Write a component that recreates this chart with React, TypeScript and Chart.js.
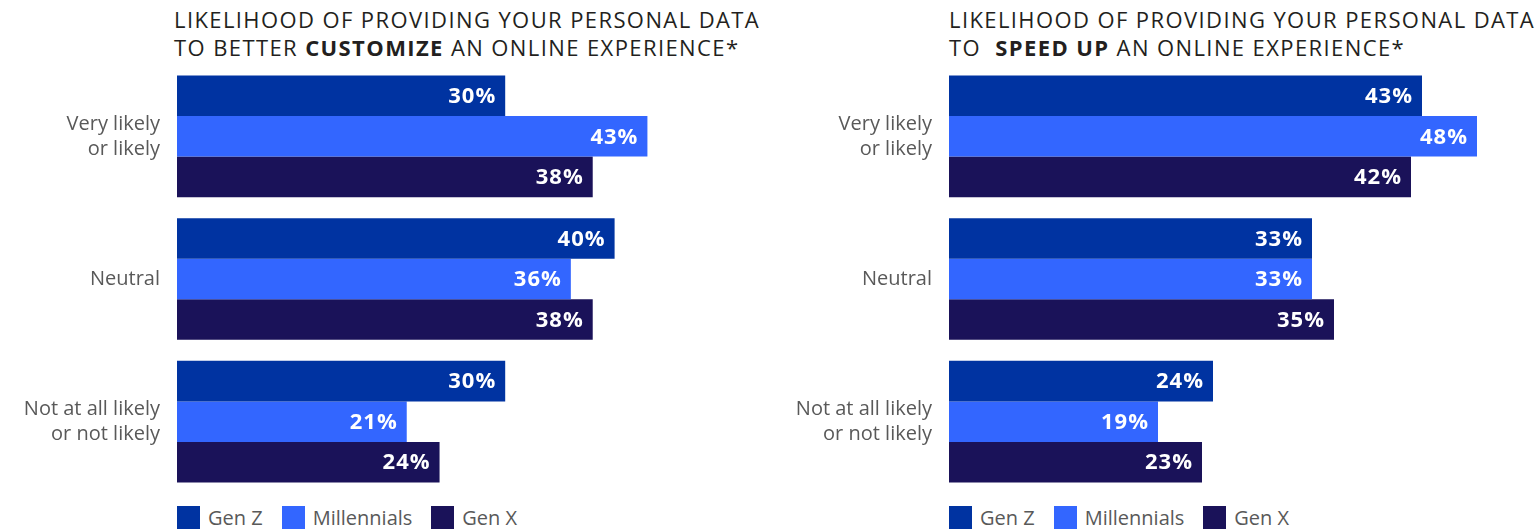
import React, { useEffect, useRef } from "react";
import { Chart, registerables } from "chart.js";

Chart.register(...registerables);

const categories: string[][] = [
  ["Very likely", "or likely"],
  ["Neutral"],
  ["Not at all likely", "or not likely"],
];
const seriesNames = ["Gen Z", "Millennials", "Gen X"];
const seriesColors = ["#0033A1", "#3366FF", "#1A1259"];

const customizeGenZ = [30, 40, 30];
const customizeMillennials = [43, 36, 21];
const customizeGenX = [38, 38, 24];

const speedUpGenZ = [43, 33, 24];
const speedUpMillennials = [48, 33, 19];
const speedUpGenX = [42, 35, 23];

const xMax = 50;
const FONT = "'Open Sans', sans-serif";

const valueLabels = {
  id: "valueLabels",
  afterDatasetsDraw(chart: any) {
    const ctx = chart.ctx;
    ctx.save();
    ctx.fillStyle = "#ffffff";
    ctx.font = `bold 22px ${FONT}`;
    (ctx as any).letterSpacing = "1px";
    ctx.textAlign = "right";
    ctx.textBaseline = "middle";
    chart.data.datasets.forEach((ds: any, i: number) => {
      const meta = chart.getDatasetMeta(i);
      meta.data.forEach((el: any, j: number) => {
        ctx.fillText(`${ds.data[j]}%`, el.x - 9, el.y + 1);
      });
    });
    ctx.restore();
  },
};

function BarPanel(props: {
  left: number;
  width: number;
  axisWidth: number;
  values: number[][];
}) {
  const ref = useRef<HTMLCanvasElement>(null);
  useEffect(() => {
    if (!ref.current) return;
    const chart = new Chart(ref.current, {
      type: "bar",
      data: {
        labels: categories,
        datasets: props.values.map((v, i) => ({
          label: seriesNames[i],
          data: v,
          backgroundColor: seriesColors[i],
          borderWidth: 0,
          categoryPercentage: 0.853,
          barPercentage: 1,
        })),
      },
      options: {
        indexAxis: "y",
        animation: false,
        responsive: false,
        maintainAspectRatio: false,
        layout: { padding: 0 },
        plugins: {
          legend: { display: false },
          title: { display: false },
          tooltip: { enabled: false },
        },
        scales: {
          x: { display: false, min: 0, max: xMax },
          y: {
            grid: { display: false, drawTicks: false },
            border: { display: false },
            ticks: {
              padding: 17,
              color: "#595959",
              font: { family: FONT, size: 20, lineHeight: 1.25 },
            },
            afterFit: (scale: any) => {
              scale.width = props.axisWidth;
              scale.paddingTop = 0;
              scale.paddingBottom = 0;
            },
          },
        },
      },
      plugins: [valueLabels],
    });
    return () => chart.destroy();
  }, []);
  return (
    <canvas
      ref={ref}
      width={props.width}
      height={428}
      style={{ position: "absolute", left: props.left, top: 65, width: props.width, height: 428 }}
    />
  );
}

function Title(props: { left: number; pre: string; bold: string; post: string }) {
  return (
    <div
      style={{
        position: "absolute",
        left: props.left,
        top: 5,
        fontFamily: FONT,
        fontSize: 22,
        letterSpacing: "1.4px",
        lineHeight: "28px",
        color: "#231F20",
        whiteSpace: "pre",
      }}
    >
      <div>LIKELIHOOD OF PROVIDING YOUR PERSONAL DATA</div>
      <div>
        {props.pre}
        <b>{props.bold}</b>
        {props.post}
      </div>
    </div>
  );
}

function Legend(props: { left: number }) {
  return (
    <div
      style={{
        position: "absolute",
        left: props.left,
        top: 506,
        height: 23,
        display: "flex",
        alignItems: "center",
        fontFamily: FONT,
        fontSize: 20,
        color: "#595959",
      }}
    >
      {seriesNames.map((n, i) => (
        <div key={n} style={{ display: "flex", alignItems: "center", marginRight: 19 }}>
          <span style={{ display: "inline-block", width: 23, height: 23, background: seriesColors[i], marginRight: 8 }} />
          <span>{n}</span>
        </div>
      ))}
    </div>
  );
}

export default function App() {
  return (
    <div
      style={{
        position: "fixed",
        left: 0,
        top: 0,
        width: 1539,
        height: 530,
        background: "#ffffff",
        overflow: "hidden",
      }}
    >
      <Title left={174} pre="TO BETTER " bold="CUSTOMIZE" post=" AN ONLINE EXPERIENCE*" />
      <Title left={949} pre="TO  " bold="SPEED UP" post=" AN ONLINE EXPERIENCE*" />
      <BarPanel
        left={0}
        width={724}
        axisWidth={177}
        values={[customizeGenZ, customizeMillennials, customizeGenX]}
      />
      <BarPanel
        left={770}
        width={729}
        axisWidth={179}
        values={[speedUpGenZ, speedUpMillennials, speedUpGenX]}
      />
      <Legend left={177} />
      <Legend left={949} />
    </div>
  );
}
